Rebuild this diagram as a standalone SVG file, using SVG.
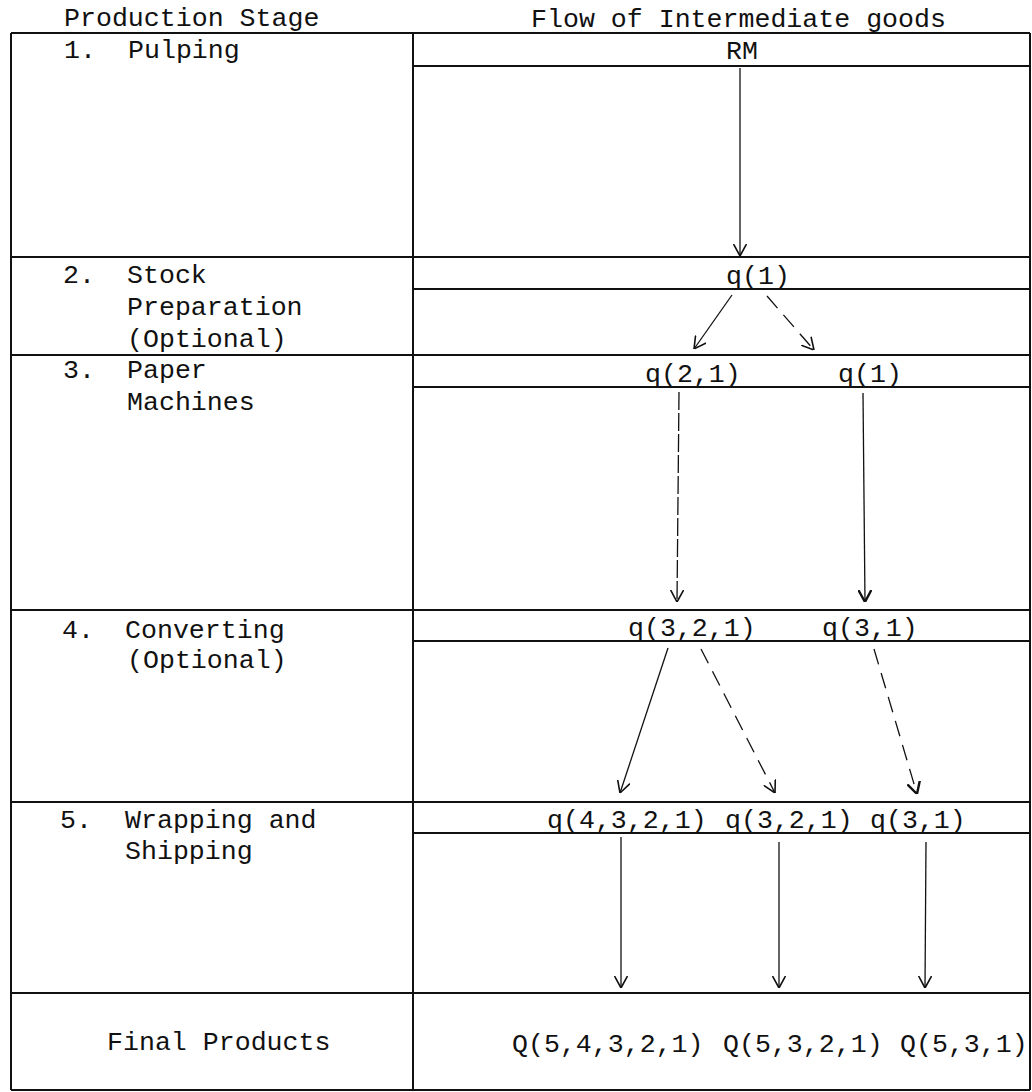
<svg xmlns="http://www.w3.org/2000/svg" width="1032" height="1092" viewBox="0 0 1032 1092">
<style>
  text { font-family: "Liberation Mono", "DejaVu Sans Mono", monospace; font-size: 26.6px; fill: #111; }
  .grid line { stroke: #111; stroke-width: 2; }
  .sub { stroke: #111; stroke-width: 1.8; }
  .conn line { stroke: #111; stroke-width: 1.3; fill: none; marker-end: url(#arr); }
  .conn line.bold { marker-end: url(#arrb); }
  .dash { stroke-dasharray: 16 9; }
  .fine { stroke-dasharray: 18 3; }
</style>
<defs>
  <marker id="arr" markerUnits="userSpaceOnUse" viewBox="0 0 12 14" refX="12" refY="7" markerWidth="12" markerHeight="14" orient="auto">
    <path d="M0,0.5 L12,7 L0,13.5" fill="none" stroke="#111" stroke-width="1.6" stroke-dasharray="none"/>
  </marker>
  <marker id="arrb" markerUnits="userSpaceOnUse" viewBox="0 0 12 14" refX="12" refY="7" markerWidth="12" markerHeight="14" orient="auto">
    <path d="M0,0.5 L12,7 L0,13.5" fill="none" stroke="#111" stroke-width="2.4" stroke-dasharray="none"/>
  </marker>
</defs>
<rect width="1032" height="1092" fill="#fff"/>

<g id="headers">
  <text x="64" y="26">Production Stage</text>
  <text x="531" y="27">Flow of Intermediate goods</text>
</g>

<g id="table" class="grid">
  <line x1="11" y1="33" x2="1030" y2="33"/>
  <line x1="11" y1="257" x2="1030" y2="257"/>
  <line x1="11" y1="355" x2="1030" y2="355"/>
  <line x1="11" y1="610" x2="1030" y2="610"/>
  <line x1="11" y1="802" x2="1030" y2="802"/>
  <line x1="11" y1="993" x2="1030" y2="993"/>
  <line x1="11" y1="1090" x2="1030" y2="1090"/>
  <line x1="11" y1="33" x2="11" y2="1090"/>
  <line x1="413" y1="33" x2="413" y2="1090"/>
  <line x1="1030" y1="33" x2="1030" y2="1090"/>
  <line class="sub" x1="413" y1="66" x2="1030" y2="66"/>
  <line class="sub" x1="413" y1="289" x2="1030" y2="289"/>
  <line class="sub" x1="413" y1="387" x2="1030" y2="387"/>
  <line class="sub" x1="413" y1="641" x2="1030" y2="641"/>
  <line class="sub" x1="413" y1="833" x2="1030" y2="833"/>
</g>

<g id="stage1"><text x="64" y="58">1.</text><text x="128" y="58">Pulping</text></g>
<g id="stage2"><text x="63" y="283">2.</text><text x="127" y="283">Stock</text><text x="127" y="315">Preparation</text><text x="127" y="347">(Optional)</text></g>
<g id="stage3"><text x="63" y="378">3.</text><text x="127" y="378">Paper</text><text x="127" y="410">Machines</text></g>
<g id="stage4"><text x="62" y="638">4.</text><text x="125" y="638">Converting</text><text x="127" y="668">(Optional)</text></g>
<g id="stage5"><text x="60" y="828">5.</text><text x="125" y="828">Wrapping and</text><text x="125" y="859">Shipping</text></g>
<g id="final"><text x="107" y="1050">Final Products</text></g>

<g id="n-RM"><text x="726" y="59">RM</text></g>
<g id="n-q1"><text x="726" y="284">q(1)</text></g>
<g id="n-q21"><text x="645" y="382">q(2,1)</text></g>
<g id="n-q1b"><text x="838" y="382">q(1)</text></g>
<g id="n-q321"><text x="628" y="636">q(3,2,1)</text></g>
<g id="n-q31"><text x="822" y="636">q(3,1)</text></g>
<g id="n-q4321"><text x="547" y="828">q(4,3,2,1)</text></g>
<g id="n-q321b"><text x="725" y="828">q(3,2,1)</text></g>
<g id="n-q31b"><text x="870" y="828">q(3,1)</text></g>
<g id="n-Q54321"><text x="512" y="1052">Q(5,4,3,2,1)</text></g>
<g id="n-Q5321"><text x="723" y="1052">Q(5,3,2,1)</text></g>
<g id="n-Q531"><text x="900" y="1052">Q(5,3,1)</text></g>

<g id="connectors" class="conn">
  <line x1="740" y1="68" x2="740" y2="256"/>
  <line x1="732" y1="295" x2="694" y2="349"/>
  <line class="dash" x1="767" y1="296" x2="814" y2="350"/>
  <line class="fine" x1="679" y1="392" x2="677" y2="602"/>
  <line class="bold" x1="863" y1="393" x2="865" y2="602"/>
  <line x1="668" y1="648" x2="620" y2="793"/>
  <line class="dash" x1="701" y1="649" x2="775" y2="793"/>
  <line class="dash bold" x1="874" y1="649" x2="917" y2="794"/>
  <line x1="621" y1="837" x2="621" y2="988"/>
  <line x1="779" y1="842" x2="779" y2="988"/>
  <line x1="926" y1="842" x2="925" y2="988"/>
</g>
</svg>
